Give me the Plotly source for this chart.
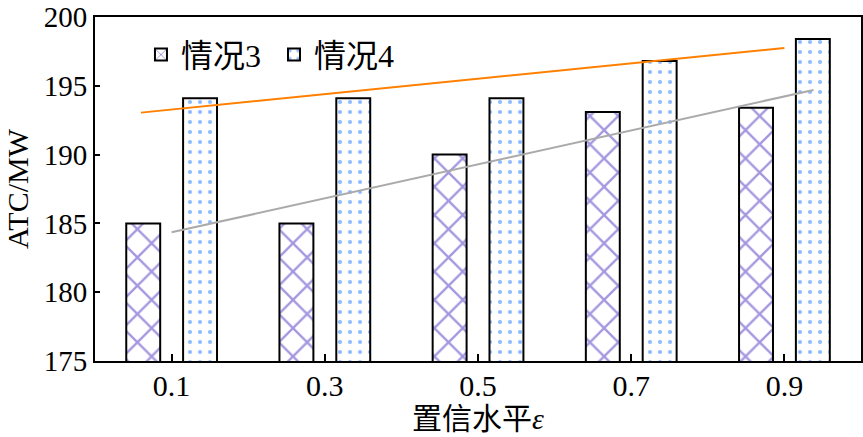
import plotly.graph_objects as go

eps = [0.1, 0.3, 0.5, 0.7, 0.9]
tick_labels = ["0.1", "0.3", "0.5", "0.7", "0.9"]
y_ticks = [175, 180, 185, 190, 195, 200]
case3 = [185.0, 185.0, 190.0, 193.1, 193.4]
case4 = [194.1, 194.1, 194.1, 196.8, 198.4]

# trend lines (endpoints)
trend4_x = [0.06, 0.9]
trend4_y = [193.05, 197.75]
trend3_x = [0.1, 0.938]
trend3_y = [184.35, 194.7]

serif = "Liberation Serif, Times New Roman, Noto Sans CJK SC"
cjk = "Liberation Serif, Noto Sans CJK SC"

fig = go.Figure()
fig.add_trace(go.Bar(
    x=eps, y=case3, name="情况3\u00a0", width=0.0443, offset=-0.0592,
    marker=dict(color="white", line=dict(color="black", width=2),
                pattern=dict(shape="x", fgcolor="#4a2fc0", bgcolor="white",
                             size=20, solidity=0.22)),
))
fig.add_trace(go.Bar(
    x=eps, y=case4, name="情况4", width=0.0443, offset=0.015,
    marker=dict(color="white", line=dict(color="black", width=2),
                pattern=dict(shape=".", fgcolor="#1f78ff", bgcolor="white",
                             size=10, solidity=0.14)),
))
fig.add_trace(go.Scatter(x=trend4_x, y=trend4_y, mode="lines",
                         line=dict(color="#ff8000", width=2), showlegend=False))
fig.add_trace(go.Scatter(x=trend3_x, y=trend3_y, mode="lines",
                         line=dict(color="#aaaaaa", width=2), showlegend=False))

fig.update_layout(
    width=863, height=437,
    margin=dict(l=95, r=2, t=17, b=76, autoexpand=False),
    plot_bgcolor="white", paper_bgcolor="white",
    barmode="overlay",
    font=dict(family=serif, color="black", size=30),
    legend=dict(orientation="h", x=0.06, y=0.97, xanchor="left", yanchor="top",
                font=dict(family=cjk, size=32), bgcolor="rgba(0,0,0,0)",
                itemwidth=30, traceorder="normal"),
    showlegend=True,
)
fig.update_xaxes(
    range=[0, 1], tickmode="array", tickvals=eps, ticktext=tick_labels,
    showline=True, linecolor="black", linewidth=2, mirror=True,
    ticks="inside", ticklen=7, tickwidth=2, tickcolor="black",
    showgrid=False, zeroline=False, ticklabeloverflow="allow", automargin=False,
    ticklabelstandoff=-3,
    tickfont=dict(family=serif, size=30),
    title=dict(text="置信水平<i>ε</i>", font=dict(family=cjk, size=30), standoff=4),
)
fig.update_yaxes(
    range=[175, 200], tickmode="array", tickvals=y_ticks,
    showline=True, linecolor="black", linewidth=2, mirror=True,
    ticks="inside", ticklen=5, tickwidth=2, tickcolor="black",
    showgrid=False, zeroline=False, ticklabeloverflow="allow", automargin=False,
    tickfont=dict(family=serif, size=29),
    title=dict(text="ATC/MW", font=dict(family=serif, size=30), standoff=6),
)

fig.write_html("out.html")
